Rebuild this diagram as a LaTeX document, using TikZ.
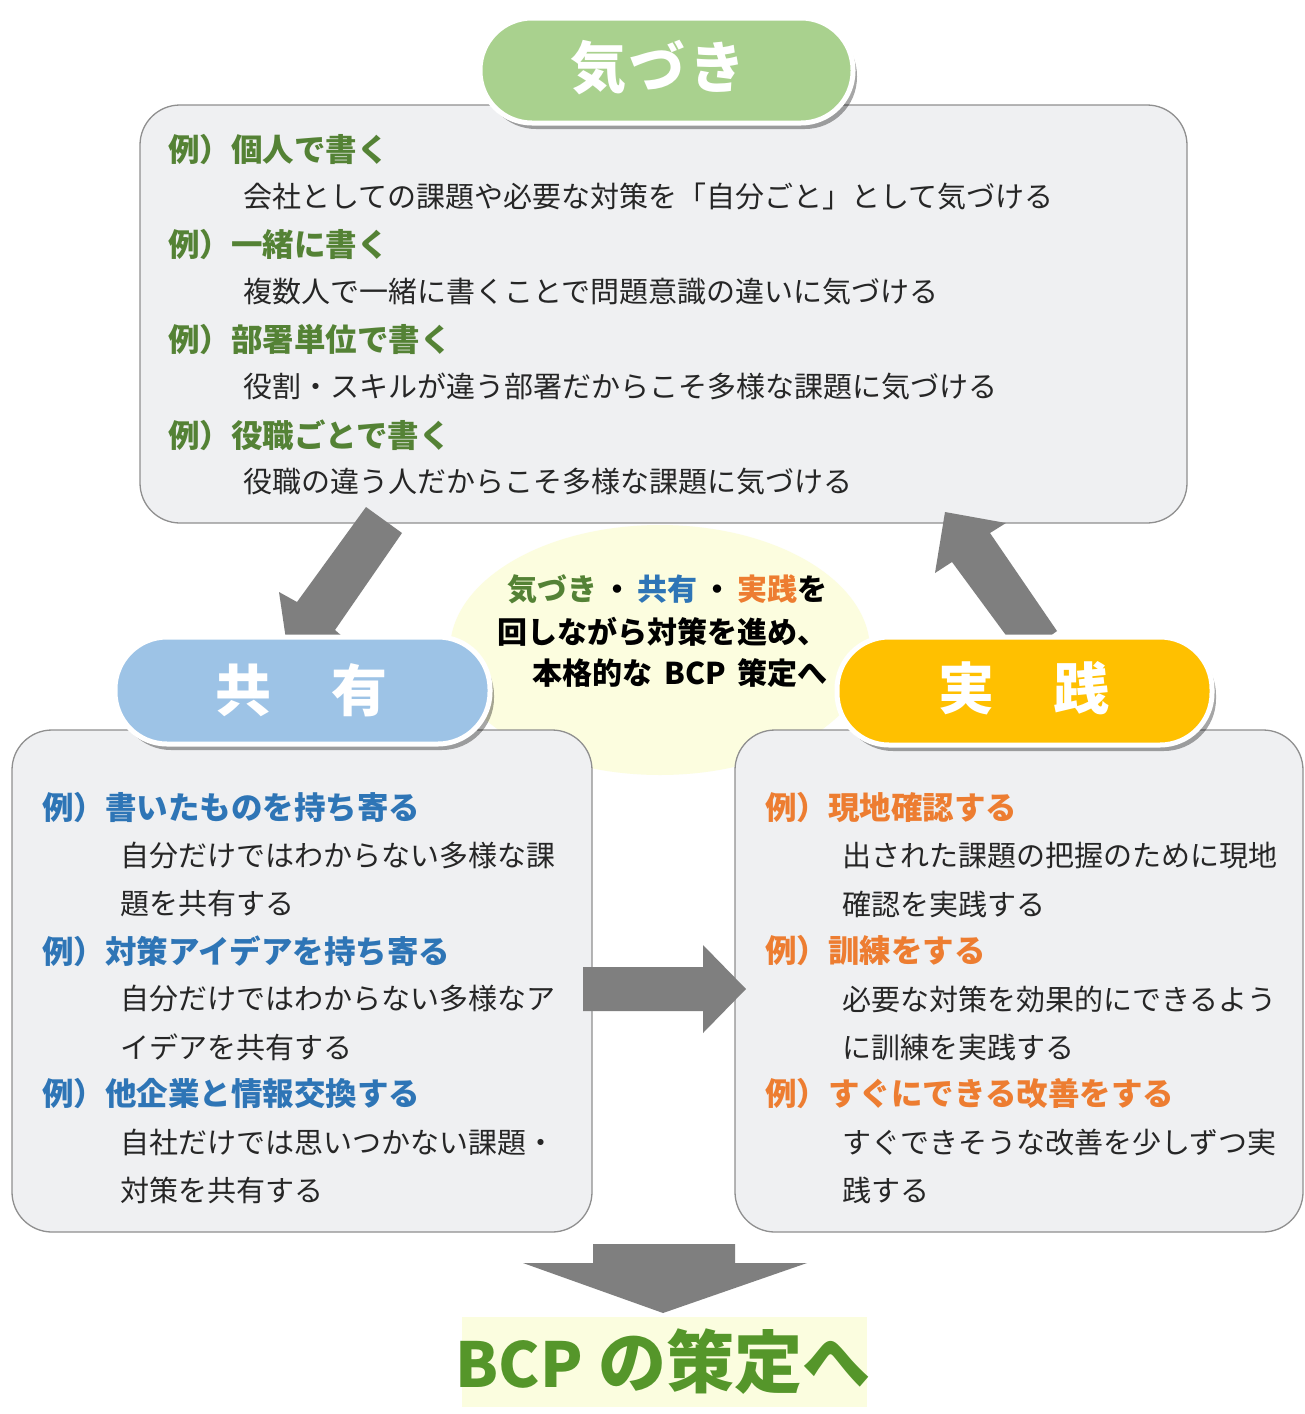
\documentclass[tikz,border=0pt]{standalone}
\usepackage{fontspec}
\setmainfont{Noto Sans CJK JP}
\usetikzlibrary{shadows}
\definecolor{boxfill}{HTML}{EFF0F2}
\definecolor{boxline}{HTML}{8F8F8F}
\definecolor{pgreen}{HTML}{A9D18E}
\definecolor{pblue}{HTML}{9DC3E6}
\definecolor{porange}{HTML}{FFC000}
\definecolor{hgreen}{HTML}{548235}
\definecolor{hblue}{HTML}{2E75B6}
\definecolor{horange}{HTML}{ED7D31}
\definecolor{arrowgray}{HTML}{7F7F7F}
\definecolor{ellfill}{HTML}{FCFDDF}
\definecolor{bcpgreen}{HTML}{55962A}
\definecolor{bcpbg}{HTML}{FBFDDF}
\definecolor{bodytext}{HTML}{262626}
\begin{document}
\begin{tikzpicture}[x=1pt,y=-1pt,
  panel/.style={draw=boxline, line width=1.3pt, fill=boxfill, rounded corners=40pt, inner sep=0},
  pill/.style={draw=white, line width=5pt, rounded corners=52pt, inner sep=0,
    drop shadow={shadow xshift=4pt, shadow yshift=-6pt, fill=black, opacity=0.35}},
  title/.style={text=white, font=\bfseries\fontsize{56}{56}\selectfont, inner sep=0},
  head/.style={anchor=west, inner sep=0, font=\bfseries\fontsize{31.5}{31.5}\selectfont},
  body/.style={anchor=west, inner sep=0, text=bodytext, font=\fontsize{29}{29}\selectfont},
  mid/.style={anchor=east, inner sep=0, font=\bfseries\fontsize{30}{30}\selectfont},
  blockarrow/.style={fill=arrowgray}
]
\useasboundingbox (0,0) rectangle (1305,1414);
\clip (0,0) rectangle (1305,1414);
\fill[white] (0,0) rectangle (1305,1414);

% center ellipse
\fill[ellfill] (660,650) ellipse [x radius=210, y radius=125];

% panels
\node[panel, minimum width=1047pt, minimum height=418pt] (topbox) at (663.5,314) {};
\node[panel, minimum width=580pt, minimum height=502pt] (leftbox) at (302,981) {};
\node[panel, minimum width=568pt, minimum height=502pt] (rightbox) at (1019,981) {};

% block arrows
\fill[blockarrow] (366,507) -- (402,533) -- (335,630) -- (350,643) -- (288,653) -- (279,592) -- (297,602) -- cycle;
\fill[blockarrow] (945,512) -- (1006,523) -- (990,533) -- (1057,631) -- (1022,657) -- (952,562) -- (935,573) -- cycle;
\fill[blockarrow] (583,967) -- (703,967) -- (703,945) -- (746,989) -- (703,1033) -- (703,1011) -- (583,1011) -- cycle;
\fill[blockarrow] (593,1244) -- (735,1244) -- (735,1263) -- (807,1263) -- (663,1313) -- (523,1263) -- (593,1263) -- cycle;

% pills
\node[pill, fill=pgreen, minimum width=373pt, minimum height=105pt] (kizuki) at (666.5,70.5) {};
\node[title] (kizukit) at (658,68) {気\kern4ptづ\kern4ptき};
\node[pill, fill=pblue, minimum width=375pt, minimum height=107pt] (kyoyu) at (302.5,690.5) {};
\node[title] (kyoyut) at (301.5,690) {共\hspace{61pt}有};
\node[pill, fill=porange, minimum width=375pt, minimum height=108pt] (jissen) at (1024.5,691) {};
\node[title] (jissent) at (1024,688) {実\hspace{60pt}践};

% center text
\node[mid] (c1) at (828,589) {\textcolor{hgreen}{気づき}\kern5pt・\kern5pt\textcolor{hblue}{共有}\kern5pt・\kern5pt\textcolor{horange}{実践}を};
\node[mid] (c2) at (828,632) {回しながら対策を進め、};
\node[mid] (c3) at (828,673) {本格的な\hspace{12pt}BCP\hspace{12pt}策定へ};

% top box text
\node[head, text=hgreen] (k1) at (168,150) {例）個人で書く};
\node[body] (k1b) at (243,197) {会社としての課題や必要な対策を「自分ごと」として気づける};
\node[head, text=hgreen] (k2) at (168,245) {例）一緒に書く};
\node[body] (k2b) at (243,292) {複数人で一緒に書くことで問題意識の違いに気づける};
\node[head, text=hgreen] (k3) at (168,340) {例）部署単位で書く};
\node[body] (k3b) at (243,387) {役割・スキルが違う部署だからこそ多様な課題に気づける};
\node[head, text=hgreen] (k4) at (168,435) {例）役職ごとで書く};
\node[body] (k4b) at (243,482) {役職の違う人だからこそ多様な課題に気づける};

% left box text
\node[head, text=hblue] (s1) at (42,808) {例）書いたものを持ち寄る};
\node[body] (s1a) at (120,856) {自分だけではわからない多様な課};
\node[body] (s1b) at (120,904) {題を共有する};
\node[head, text=hblue] (s2) at (42,951) {例）対策アイデアを持ち寄る};
\node[body] (s2a) at (120,999) {自分だけではわからない多様なア};
\node[body] (s2b) at (120,1047) {イデアを共有する};
\node[head, text=hblue] (s3) at (42,1094) {例）他企業と情報交換する};
\node[body] (s3a) at (120,1142) {自社だけでは思いつかない課題・};
\node[body] (s3b) at (120,1190) {対策を共有する};

% right box text
\node[head, text=horange] (j1) at (765,808) {例）現地確認する};
\node[body] (j1a) at (842,856) {出された課題の把握のために現地};
\node[body] (j1b) at (842,904) {確認を実践する};
\node[head, text=horange] (j2) at (765,951) {例）訓練をする};
\node[body] (j2a) at (842,999) {必要な対策を効果的にできるよう};
\node[body] (j2b) at (842,1047) {に訓練を実践する};
\node[head, text=horange] (j3) at (765,1094) {例）すぐにできる改善をする};
\node[body] (j3a) at (842,1142) {すぐできそうな改善を少しずつ実};
\node[body] (j3b) at (842,1190) {践する};

% bottom
\node[fill=bcpbg, inner sep=0, minimum width=405pt, minimum height=90pt] (bcpbox) at (664,1362) {};
\node[inner sep=0, text=bcpgreen, font=\bfseries\fontsize{68}{68}\selectfont] (bcp) at (663,1362) {{\fontsize{62}{62}\selectfont BCP} の策定へ};
\end{tikzpicture}
\end{document}
